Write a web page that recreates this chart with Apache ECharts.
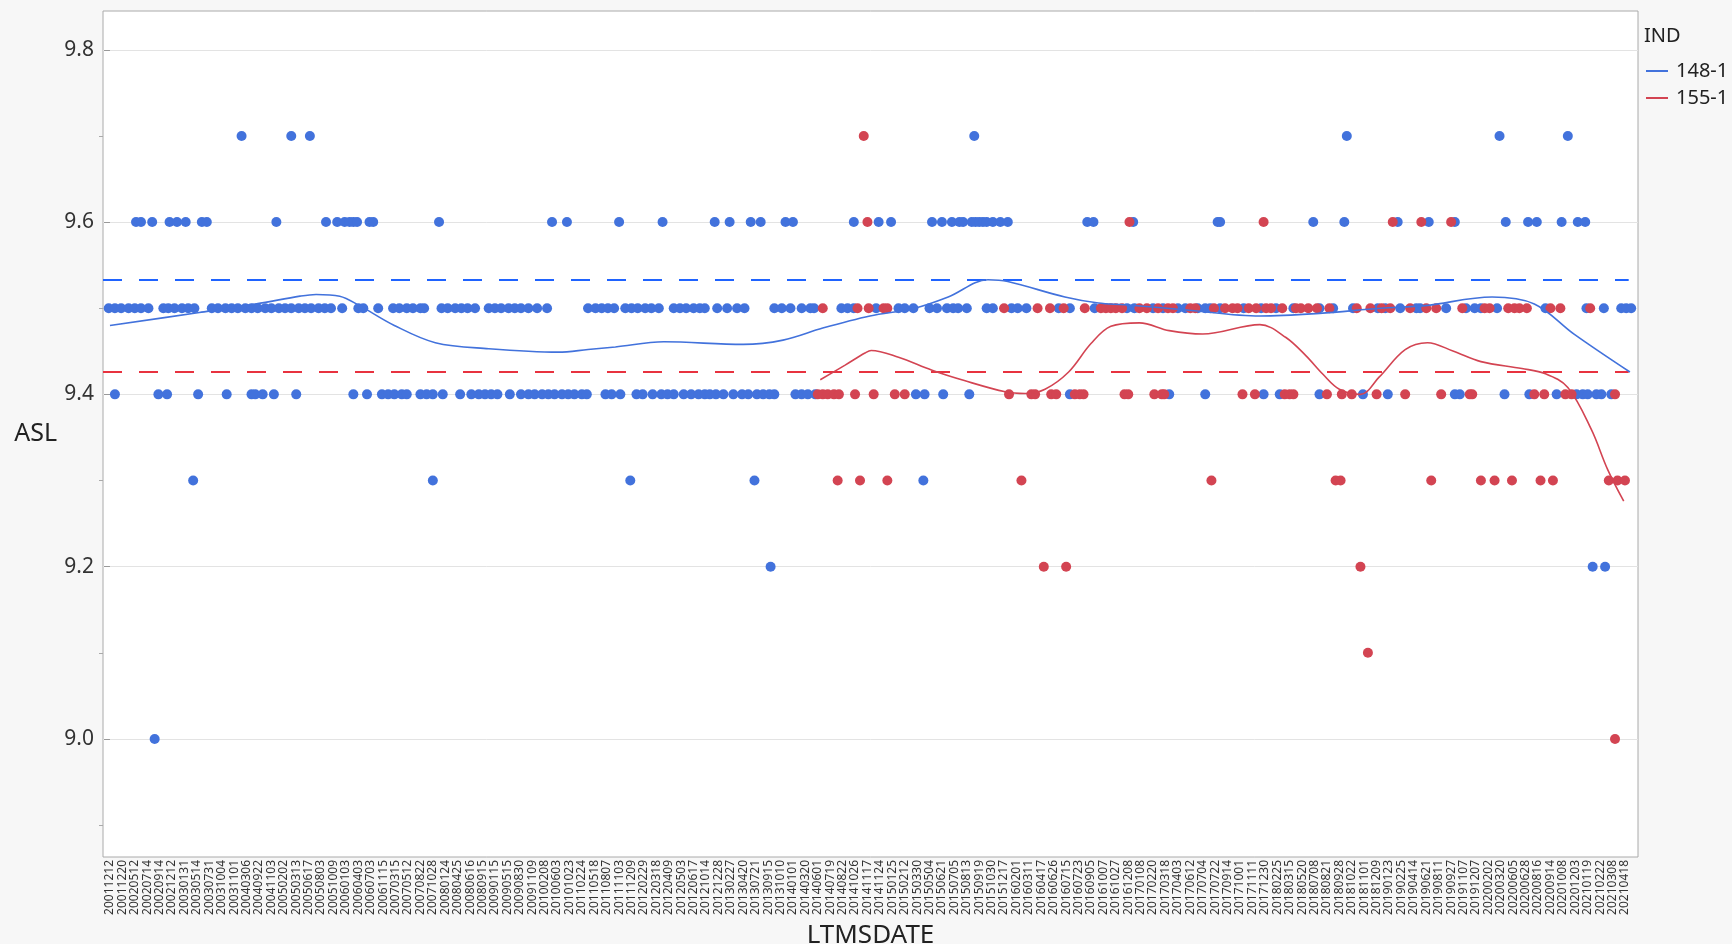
<!DOCTYPE html>
<html>
<head>
<meta charset="utf-8">
<title>ASL by LTMSDATE</title>
<script src="https://cdn.jsdelivr.net/npm/echarts@6/dist/echarts.min.js"></script>
<style>
  html, body { margin: 0; padding: 0; background: #f7f7f7; }
  #chart { width: 1732px; height: 944px; }
</style>
</head>
<body>
<div id="chart"></div>
<script>
// Date labels along the x axis (one per tick slot, index 0..122)
const tickLabels = [
  '20011212','20011220','20020512','20020714','20020914','20021212','20030131','20030514','20030731','20031004',
  '20031101','20040306','20040922','20041103','20050202','20050313','20050617','20050803','20051009','20060103',
  '20060403','20060703','20061115','20070315','20070512','20070822','20071028','20080124','20080425','20080616',
  '20080915','20090115','20090515','20090830','20091109','20100208','20100603','20101023','20110224','20110518',
  '20110807','20111103','20111209','20120229','20120318','20120409','20120503','20120617','20121014','20121228',
  '20130227','20130420','20130721','20130915','20131010','20140101','20140320','20140601','20140719','20140822',
  '20141026','20141117','20141124','20150125','20150212','20150330','20150504','20150621','20150705','20150813',
  '20150919','20151030','20151217','20160201','20160311','20160417','20160626','20160715','20160723','20160905',
  '20161007','20161027','20161208','20170108','20170220','20170318','20170403','20170612','20170704','20170722',
  '20170914','20171001','20171111','20171230','20180225','20180315','20180520','20180708','20180821','20180928',
  '20181022','20181101','20181209','20190123','20190225','20190414','20190621','20190811','20190927','20191107',
  '20191207','20200202','20200320','20200605','20200628','20200816','20200914','20201008','20201203','20210119',
  '20210222','20210308','20210418'
];
const yTickValues = [9.0, 9.2, 9.4, 9.6, 9.8];
const yMinorValues = [8.9, 9.1, 9.3, 9.5, 9.7];

// IND 148-1: x positions (date slot) of readings, grouped by ASL value
const blue97 = [10.6, 14.6, 16.1, 69.6, 99.6, 111.9, 117.4];
const blue96 = [2.1, 2.5, 3.4, 4.8, 5.4, 6.1, 7.4, 7.8, 13.4, 17.4, 18.3, 18.9, 19.3, 19.6, 19.9, 20.9, 21.2, 26.5,
  35.6, 36.8, 41.0, 44.5, 48.7, 49.9, 51.6, 52.4, 54.4, 55.0, 59.9, 61.9, 62.9, 66.2, 67.0, 67.8, 68.4, 68.7,
  69.4, 69.7, 70.0, 70.3, 70.6, 71.1, 71.7, 72.3, 78.7, 79.2, 82.4, 89.2, 89.4, 96.9, 99.4, 103.7, 106.2, 108.3,
  112.4, 114.2, 114.9, 116.9, 118.2, 118.8];
const blue95 = [-0.1, 0.4, 0.9, 1.5, 2.0, 2.5, 3.1, 4.3, 4.7, 5.2, 5.8, 6.3, 6.8, 8.2, 8.7, 9.3, 9.8, 10.3, 10.9,
  11.4, 11.9, 12.5, 13.0, 13.6, 14.1, 14.6, 15.2, 15.7, 16.2, 16.8, 17.3, 17.8, 18.7, 20.0, 20.4, 21.6, 22.8,
  23.3, 23.9, 24.4, 25.0, 25.3, 26.7, 27.2, 27.8, 28.3, 28.8, 29.4, 30.5, 31.0, 31.5, 32.1, 32.6, 33.1, 33.7,
  34.4, 35.2, 38.5, 39.1, 39.6, 40.1, 40.6, 41.5, 42.0, 42.5, 43.1, 43.6, 44.2, 45.4, 45.9, 46.4, 47.0, 47.5,
  47.9, 48.9, 49.7, 50.5, 51.1, 53.5, 54.1, 54.8, 55.7, 56.4, 56.7, 58.9, 59.4, 59.9, 61.7, 63.5, 64.0, 64.7,
  66.0, 66.6, 67.4, 67.9, 68.3, 69.0, 70.6, 71.1, 72.6, 73.1, 73.8, 76.4, 77.3, 79.3, 81.9, 82.5, 84.0, 84.8,
  86.0, 86.6, 87.6, 88.2, 88.6, 89.4, 91.3, 92.7, 93.9, 95.3, 97.4, 98.5, 100.1, 102.1, 102.7, 103.9, 105.2,
  105.5, 107.6, 109.2, 109.9, 110.4, 111.7, 115.6, 118.9, 120.3, 121.7, 122.1, 122.5];
const blue94 = [0.4, 3.9, 4.6, 7.1, 9.4, 11.4, 11.7, 12.3, 13.2, 15.0, 19.6, 20.7, 21.9, 22.4, 22.9, 23.5, 23.9,
  25.0, 25.5, 26.0, 26.8, 28.2, 29.1, 29.7, 30.2, 30.7, 31.2, 32.2, 33.1, 33.7, 34.2, 34.8, 35.3, 35.8, 36.4,
  36.9, 37.4, 38.0, 38.4, 39.9, 40.4, 41.1, 42.4, 42.9, 43.7, 44.4, 44.9, 45.4, 46.2, 46.8, 47.4, 47.9, 48.3,
  48.8, 49.4, 50.2, 50.9, 51.4, 52.1, 52.6, 53.1, 53.5, 55.2, 55.7, 56.2, 56.8, 64.9, 65.6, 67.1, 69.2, 77.3,
  85.3, 88.2, 92.9, 94.2, 97.4, 100.9, 102.9, 108.3, 108.7, 112.3, 114.3, 116.5, 118.1, 118.6, 119.0, 119.7,
  120.1, 120.9];
const blue93 = [6.7, 26.0, 41.9, 51.9, 65.5];
const blue92 = [53.2, 119.4, 120.4];
const blue90 = [3.6];

// IND 155-1
const red97 = [60.7];
const red96 = [61.0, 82.1, 92.9, 103.3, 105.6, 108.0];
const red95 = [57.4, 60.2, 61.1, 62.3, 62.6, 72.0, 74.7, 75.7, 76.8, 78.5, 79.8, 80.2, 80.6, 81.0, 81.5, 82.9,
  83.5, 84.4, 85.2, 85.6, 87.0, 87.4, 88.9, 89.8, 90.4, 90.8, 91.7, 92.3, 93.1, 93.5, 94.4, 95.5, 95.9, 96.5,
  97.2, 98.2, 100.4, 101.5, 102.4, 103.1, 104.7, 106.0, 106.8, 108.9, 110.7, 111.1, 112.6, 113.1, 113.5, 114.1,
  116.0, 116.8, 119.2];
const red94 = [57.0, 57.4, 57.8, 58.3, 58.7, 60.0, 61.5, 63.2, 64.0, 72.4, 74.2, 74.5, 75.8, 76.2, 77.7, 78.1,
  78.4, 81.7, 82.0, 84.1, 84.7, 84.9, 91.2, 92.2, 94.6, 95.0, 95.3, 98.0, 99.2, 100.0, 102.0, 104.3, 107.2,
  109.5, 109.7, 114.7, 115.5, 117.2, 117.7, 121.2];
const red93 = [58.6, 60.4, 62.6, 73.4, 88.7, 98.7, 99.1, 106.4, 110.4, 111.5, 112.9, 115.2, 116.2, 120.7, 121.4, 122.0];
const red92 = [75.2, 77.0, 100.7];
const red91 = [101.3];
const red90 = [121.2];

// Smoothed trend of each IND
const blueSmooth = [[0, 9.480], [7.2, 9.495], [11.8, 9.505], [15.3, 9.514], [16.6, 9.516], [18.5, 9.514],
  [20.1, 9.503], [22.9, 9.480], [26.2, 9.460], [30.5, 9.453], [36.1, 9.449], [38.5, 9.452], [40.7, 9.455],
  [44.6, 9.461], [51.0, 9.458], [54.2, 9.463], [57.4, 9.477], [61.2, 9.491], [64.8, 9.500], [67.5, 9.513],
  [70.7, 9.533], [72.3, 9.531], [76.9, 9.513], [79.6, 9.506], [81.7, 9.504], [86.7, 9.498], [92.6, 9.491],
  [97.4, 9.494], [102.3, 9.500], [105.9, 9.503], [111.3, 9.513], [114.7, 9.505], [117.9, 9.470], [122.4, 9.426]];
const redSmooth = [[57.2, 9.417], [59.2, 9.434], [60.8, 9.448], [61.3, 9.451], [63.5, 9.443], [66.2, 9.428],
  [68.8, 9.416], [72.1, 9.403], [73.7, 9.401], [75.3, 9.406], [77.2, 9.426], [79.0, 9.459], [80.6, 9.479],
  [82.9, 9.483], [85.3, 9.474], [88.0, 9.470], [92.6, 9.481], [94.7, 9.466], [96.3, 9.445], [97.7, 9.423],
  [99.0, 9.406], [100.7, 9.400], [102.2, 9.420], [104.3, 9.452], [106.1, 9.460], [108.2, 9.450], [110.4, 9.438],
  [113.7, 9.430], [115.6, 9.424], [117.4, 9.408], [119.3, 9.359], [120.6, 9.313], [121.9, 9.276]];

// Group means and the x span of the mean reference lines
const blueMean = 9.533;
const redMean = 9.426;
const meanSpan = [-0.56, 122.3];

const blueRows = [[9.7, blue97], [9.6, blue96], [9.5, blue95], [9.4, blue94], [9.3, blue93], [9.2, blue92], [9.0, blue90]];
const redRows = [[9.7, red97], [9.6, red96], [9.5, red95], [9.4, red94], [9.3, red93], [9.2, red92], [9.1, red91], [9.0, red90]];
const toPoints = rows => rows.flatMap(([y, xs]) => xs.map(x => [x, y]));
const meanMark = (m, color) => ({
  silent: true, symbol: 'none', precision: 4, label: { show: false },
  lineStyle: { color: color, type: [19, 17], width: 1.8 },
  data: [[{ coord: [meanSpan[0], m] }, { coord: [meanSpan[1], m] }]]
});

const BLUE = '#4272dc';
const RED = '#d34452';
const FONT = 'Noto Sans, Open Sans, DejaVu Sans, sans-serif';

const chart = echarts.init(document.getElementById('chart'), null, { renderer: 'canvas' });
chart.setOption({
  backgroundColor: '#f7f7f7',
  animation: false,
  textStyle: { fontFamily: FONT },
  grid: {
    left: 103, right: 94, top: 11, bottom: 87,
    outerBoundsMode: 'none', containLabel: false,
    show: true, backgroundColor: '#ffffff', borderColor: '#aaaaaa', borderWidth: 1
  },
  graphic: [{
    type: 'text', left: 1644, top: 26,
    style: { text: 'IND', fontSize: 20, fill: '#222', fontFamily: FONT }
  }],
  legend: {
    orient: 'vertical', left: 1641, top: 56,
    itemWidth: 22, itemHeight: 2, itemGap: 7,
    textStyle: { fontSize: 20, color: '#222', fontFamily: FONT, padding: [0, 0, 0, 3] },
    data: [
      { name: '148-1', icon: 'rect', itemStyle: { color: BLUE } },
      { name: '155-1', icon: 'rect', itemStyle: { color: RED } }
    ]
  },
  xAxis: {
    type: 'value', min: -0.56, max: 123.05,
    name: 'LTMSDATE', nameLocation: 'middle', nameGap: 50,
    nameTextStyle: { fontSize: 26, color: '#222', fontFamily: FONT },
    axisLine: { show: false },
    splitLine: { show: false },
    axisTick: { show: false, customValues: tickLabels.map((_, i) => i) },
    axisLabel: {
      customValues: tickLabels.map((_, i) => i),
      rotate: 90, fontSize: 12, color: '#333', margin: 3,
      formatter: v => tickLabels[Math.round(v)] || ''
    }
  },
  yAxis: [{
    type: 'value', min: 8.863, max: 9.845,
    name: 'ASL', nameLocation: 'middle', nameRotate: 0, nameGap: 46,
    nameTextStyle: { fontSize: 25, color: '#222', fontFamily: FONT },
    axisLine: { show: false },
    axisTick: { show: true, length: 6, customValues: yTickValues, lineStyle: { color: '#999' } },
    axisLabel: { customValues: yTickValues, fontSize: 21, color: '#333', margin: 9, formatter: v => v.toFixed(1) },
    splitLine: { show: true, lineStyle: { color: '#e3e3e3', width: 1 } }
  }, {
    type: 'value', min: 8.863, max: 9.845, position: 'left',
    axisLine: { show: false },
    axisTick: { show: true, length: 4, customValues: yMinorValues, lineStyle: { color: '#aaa' } },
    axisLabel: { show: false },
    splitLine: { show: false }
  }],
  series: [
    {
      name: '148-1', type: 'scatter', data: toPoints(blueRows),
      symbolSize: 10, itemStyle: { color: BLUE, opacity: 1 }, z: 3
    },
    {
      name: '155-1', type: 'scatter', data: toPoints(redRows),
      symbolSize: 10, itemStyle: { color: RED, opacity: 1 }, z: 4
    },
    {
      name: '148-1', type: 'line', data: blueSmooth, smooth: 0.35, showSymbol: false,
      lineStyle: { color: BLUE, width: 1.6 }, itemStyle: { color: BLUE }, z: 5,
      markLine: meanMark(blueMean, '#1f63ff')
    },
    {
      name: '155-1', type: 'line', data: redSmooth, smooth: 0.35, showSymbol: false,
      lineStyle: { color: RED, width: 1.6 }, itemStyle: { color: RED }, z: 5,
      markLine: meanMark(redMean, '#e8323f')
    }
  ]
});
</script>
</body>
</html>
